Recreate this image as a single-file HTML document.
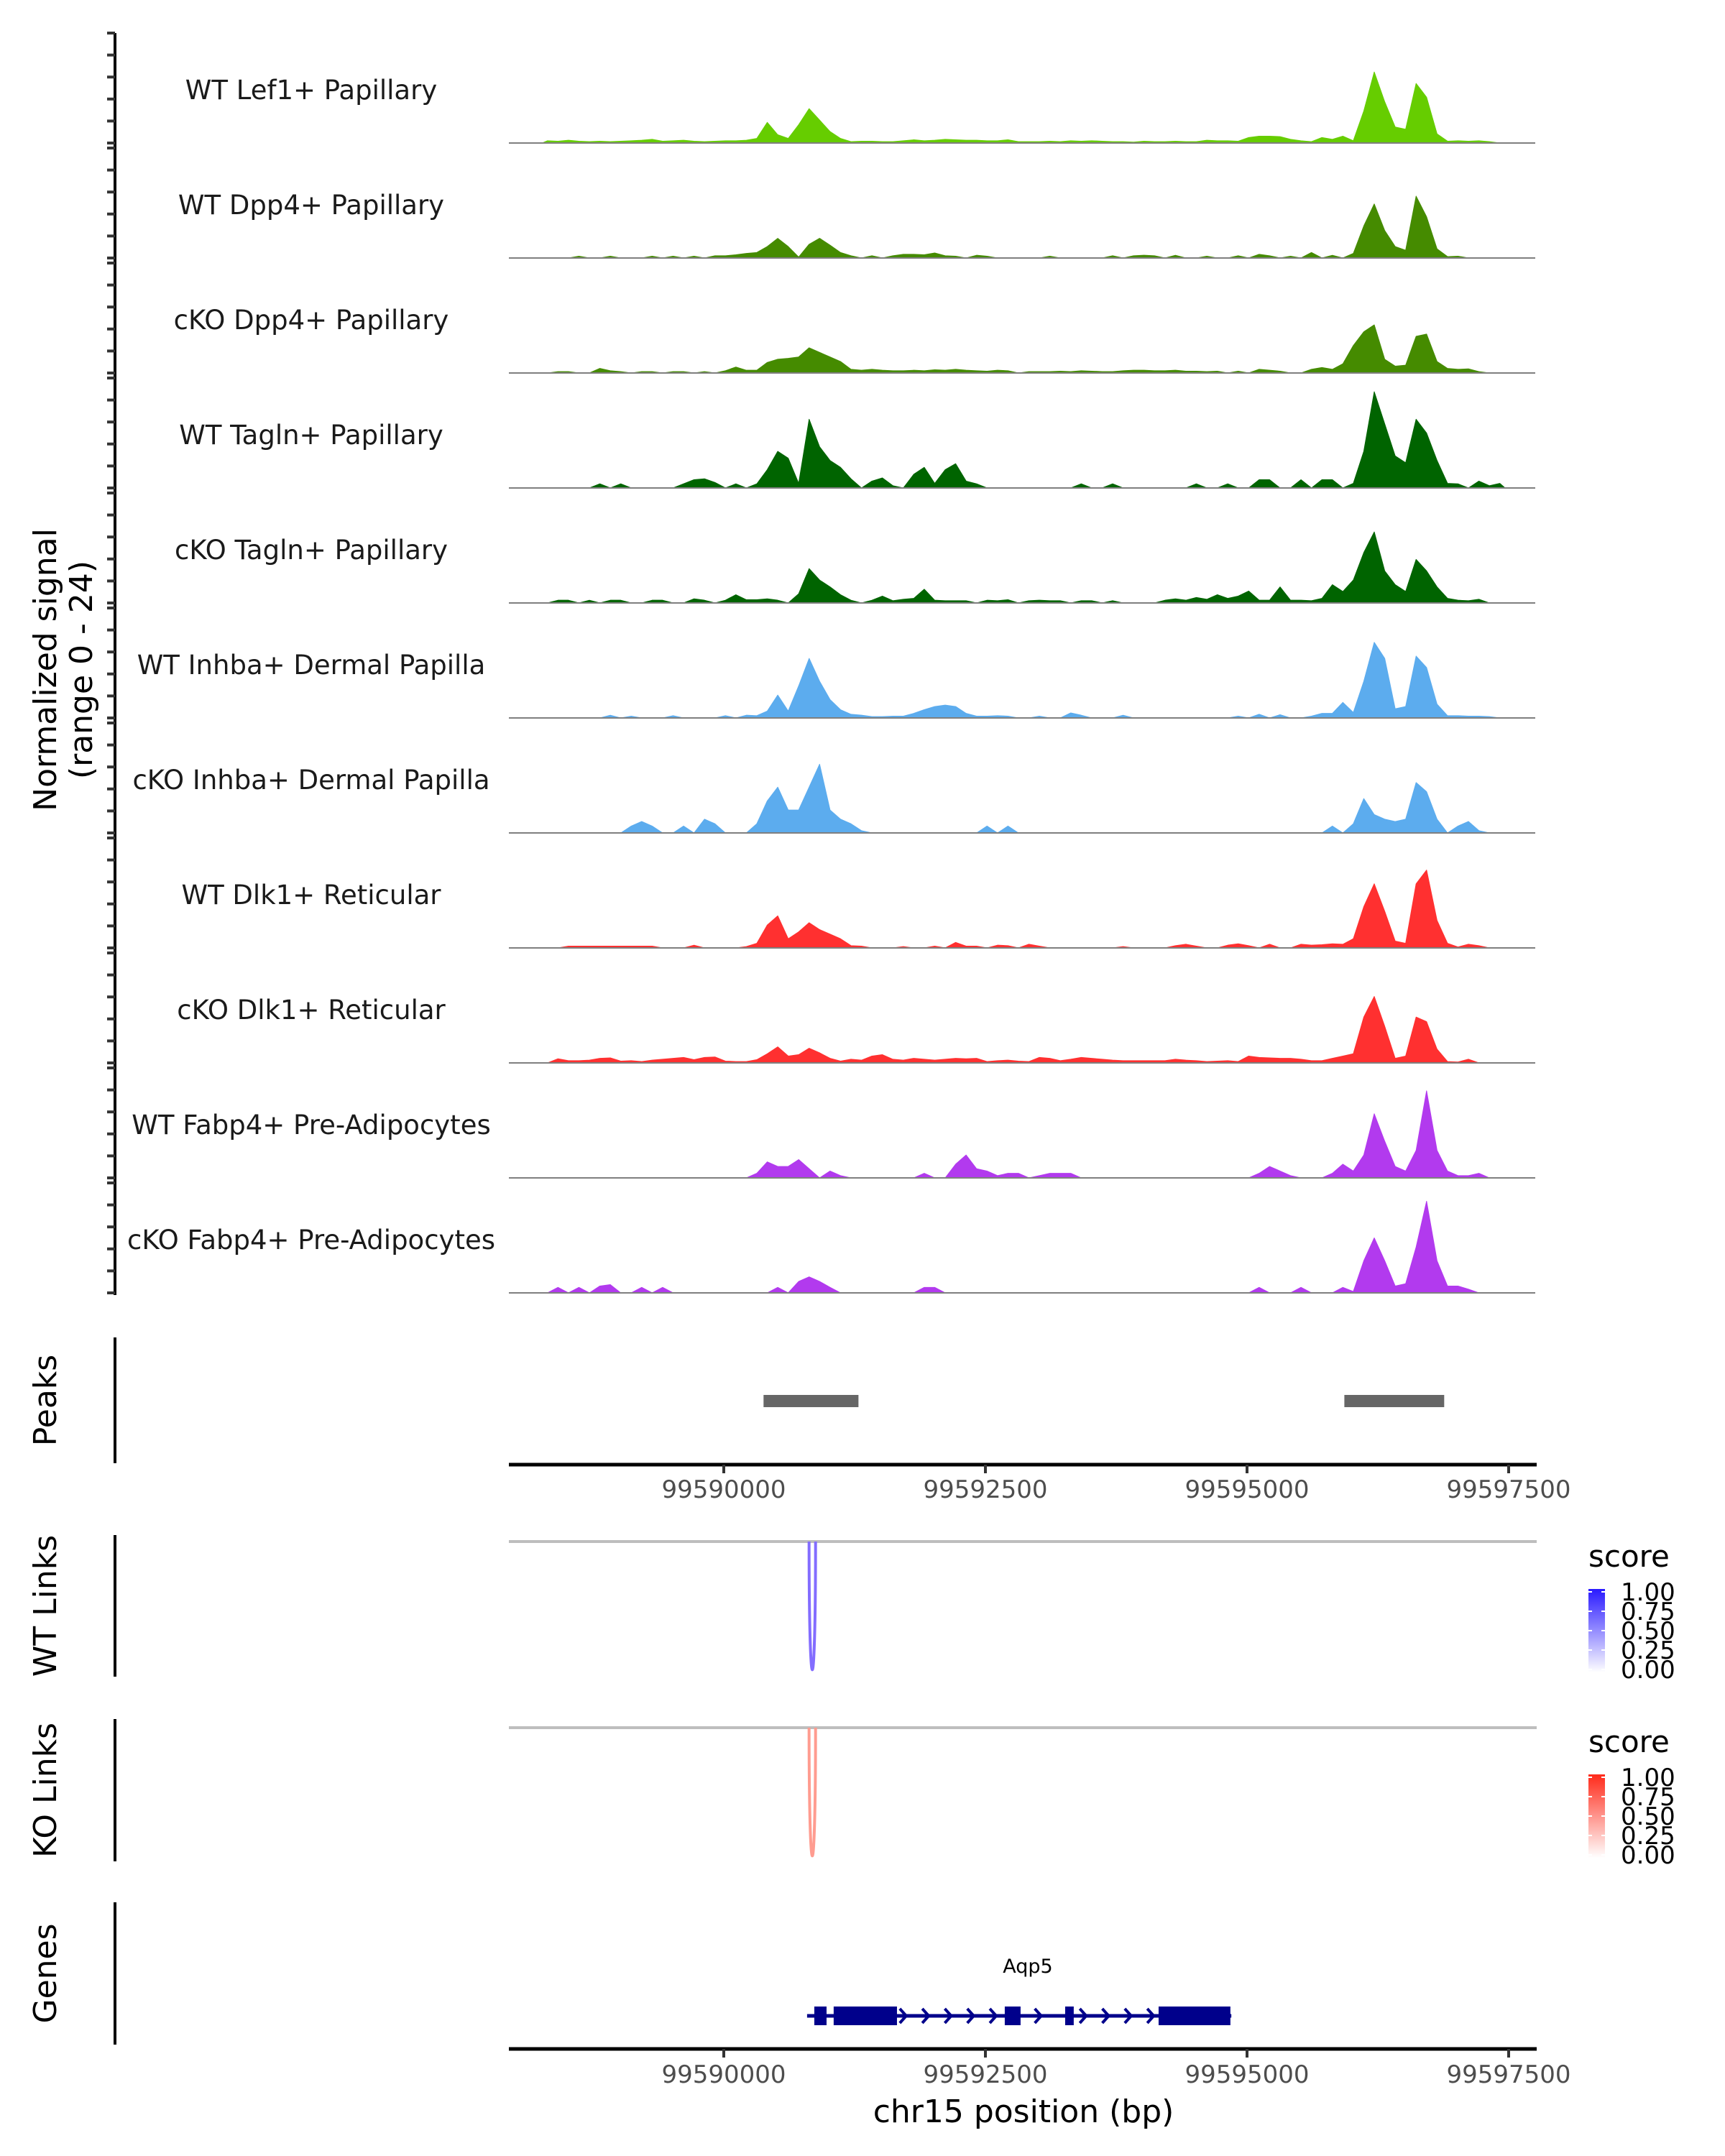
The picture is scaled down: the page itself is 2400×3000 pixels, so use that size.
<!DOCTYPE html>
<html><head><meta charset="utf-8"><title>Aqp5 coverage plot</title>
<style>
html,body{margin:0;padding:0;background:#fff;}
svg{display:block;font-family:"DejaVu Sans","Liberation Sans",sans-serif;}
</style></head>
<body>
<svg id="chart" width="2400" height="3000" viewBox="0 0 2400 3000" xmlns="http://www.w3.org/2000/svg">
<rect width="2400" height="3000" fill="#fff"/>
<g id="tracks"></g>
<g id="peaks"></g>
<g id="links"></g>
<g id="genes"></g>
<g id="axes"></g>
</svg>
<script>
// ---- data ----
const trackNames = ["WT Lef1+ Papillary","WT Dpp4+ Papillary","cKO Dpp4+ Papillary","WT Tagln+ Papillary","cKO Tagln+ Papillary","WT Inhba+ Dermal Papilla","cKO Inhba+ Dermal Papilla","WT Dlk1+ Reticular","cKO Dlk1+ Reticular","WT Fabp4+ Pre-Adipocytes","cKO Fabp4+ Pre-Adipocytes"];
const trackColors = ["#66CD00","#458B00","#458B00","#006400","#006400","#5CACEE","#5CACEE","#FF3030","#FF3030","#B23AEE","#B23AEE"];
const binStart = 99588300;
const binSize = 100;
const sigLef1WT = [0.5,0.4,0.6,0.4,0.3,0.4,0.3,0.4,0.5,0.6,0.8,0.4,0.5,0.6,0.4,0.3,0.4,0.5,0.5,0.6,1.0,4.5,1.8,1.0,4.0,7.5,5.0,2.5,1.0,0.3,0.4,0.4,0.3,0.3,0.5,0.7,0.5,0.6,0.8,0.7,0.6,0.6,0.5,0.5,0.7,0.3,0.3,0.3,0.4,0.3,0.5,0.4,0.5,0.4,0.3,0.3,0.2,0.4,0.3,0.3,0.4,0.3,0.3,0.6,0.5,0.5,0.4,1.2,1.5,1.5,1.4,0.8,0.5,0.3,1.2,0.8,1.5,0.5,7.0,15.5,9.0,3.5,3.0,13.0,10.0,2.0,0.4,0.5,0.4,0.5,0.3,0];
const sigDpp4WT = [0,0,0,0.4,0,0,0.4,0,0,0,0.4,0,0.4,0,0.4,0,0.5,0.5,0.7,1.0,1.2,2.5,4.3,2.5,0.2,3.0,4.3,2.8,1.2,0.5,0,0.5,0,0.5,0.8,0.8,0.7,1.1,0.5,0.4,0,0.6,0.4,0,0,0,0,0,0.4,0,0,0,0,0,0.5,0,0.5,0.6,0.5,0,0.6,0,0,0.4,0,0,0.5,0,0.8,0.5,0,0.4,0,1.2,0,0.6,0,1.0,7.0,11.8,6.0,2.5,1.7,13.5,9.0,2.0,0.3,0.4,0,0,0,0];
const sigDpp4KO = [0,0.3,0.3,0,0,1.0,0.5,0.3,0,0.3,0.3,0,0.3,0.3,0,0.3,0,0.5,1.3,0.6,0.6,2.3,3.0,3.2,3.5,5.5,4.5,3.5,2.5,0.8,0.6,0.8,0.6,0.5,0.5,0.6,0.5,0.7,0.6,0.8,0.6,0.5,0.4,0.6,0.5,0,0.3,0.3,0.3,0.4,0.3,0.5,0.4,0.3,0.3,0.5,0.6,0.6,0.5,0.5,0.6,0.4,0.4,0.3,0.4,0,0.4,0,0.8,0.6,0.4,0,0,0.8,1.2,0.8,2.0,6.0,9.0,10.5,3.0,1.5,1.7,8.0,8.5,2.5,1.0,0.8,0.9,0.3,0,0];
const sigTaglnWT = [0,0,0,0,0,0.9,0,0.9,0,0,0,0,0,0.9,1.8,2.0,1.2,0,0.9,0,0.9,4.0,8.0,6.5,1.0,15.0,9.0,6.0,4.5,2.0,0,1.5,2.2,0.5,0,3.0,4.5,1.0,4.0,5.3,1.5,0.9,0,0,0,0,0,0,0,0,0,0.9,0,0,0.9,0,0,0,0,0,0,0,0.9,0,0,0.9,0,0,1.8,1.8,0,0,1.8,0,1.8,1.8,0,1.0,8.0,21.0,14.0,7.0,5.5,15.0,12.0,6.0,1.0,0.9,0,1.5,0.5,1.0];
const sigTaglnKO = [0,0.6,0.6,0,0.6,0,0.6,0.6,0,0,0.6,0.6,0,0,0.9,0.6,0,0.6,1.8,0.7,0.7,0.9,0.6,0,2.0,7.5,5.0,3.5,1.8,0.6,0,0.6,1.5,0.5,0.8,1.0,3.0,0.6,0.5,0.5,0.5,0,0.6,0.5,0.7,0,0.5,0.6,0.5,0.5,0,0.5,0.5,0,0.5,0,0,0,0,0.6,0.9,0.6,1.2,0.8,1.8,1.0,1.5,2.6,0.6,0.6,3.5,0.6,0.6,0.5,1.0,4.0,2.5,5.0,11.0,15.5,7.0,4.0,2.5,9.5,7.0,3.5,1.0,0.6,0.5,0.8,0,0];
const sigInhbaWT = [0,0,0,0,0,0,0.6,0,0.4,0,0,0,0.5,0,0,0,0,0.5,0,0.6,0.5,1.5,5.0,1.5,7.0,13.0,8.0,4.0,1.8,0.8,0.6,0.3,0.3,0.4,0.4,1.0,1.8,2.5,2.8,2.5,1.0,0.4,0.4,0.5,0.4,0,0,0.4,0,0,1.1,0.6,0,0,0,0.6,0,0,0,0,0,0,0,0,0,0,0.4,0,0.8,0,0.7,0,0,0.4,1.0,1.0,3.4,1.2,8.0,16.5,13.0,2.0,2.5,13.5,11.0,3.0,0.5,0.5,0.4,0.4,0.3,0];
const sigInhbaKO = [0,0,0,0,0,0,0,0,1.5,2.5,1.5,0,0,1.5,0,3.0,2.0,0,0,0,2.0,7.0,10.0,5.0,5.0,10.0,15.0,5.0,3.0,2.0,0.5,0,0,0,0,0,0,0,0,0,0,0,1.5,0,1.5,0,0,0,0,0,0,0,0,0,0,0,0,0,0,0,0,0,0,0,0,0,0,0,0,0,0,0,0,0,0,1.5,0,2.0,7.5,4.0,3.0,2.5,3.0,11.0,9.0,3.0,0,1.5,2.5,0.5,0,0];
const sigDlk1WT = [0,0,0.4,0.4,0.4,0.4,0.4,0.4,0.4,0.4,0.4,0,0,0,0.6,0,0,0,0,0.3,1.0,5.0,7.0,2.0,3.5,5.5,4.0,3.0,2.0,0.5,0.4,0,0,0,0.3,0,0,0.4,0,1.2,0.4,0.4,0,0.6,0.5,0,0.8,0.4,0,0,0,0,0,0,0,0.3,0,0,0,0,0.5,0.8,0.4,0,0,0.6,0.9,0.5,0,0.8,0,0,0.8,0.6,0.7,0.9,0.8,2.0,9.0,14.0,8.0,1.5,1.0,14.0,17.0,6.0,1.0,0.2,0.8,0.5,0,0];
const sigDlk1KO = [0,0.9,0.5,0.5,0.6,1.0,1.1,0.4,0.5,0.3,0.6,0.8,1.0,1.2,0.7,1.2,1.3,0.4,0.3,0.3,0.7,2.0,3.5,1.5,1.8,3.2,2.2,1.0,0.4,0.8,0.6,1.5,1.8,0.8,0.6,1.0,0.8,0.6,0.8,1.0,0.9,1.0,0.3,0.5,0.6,0.4,0.3,1.2,1.0,0.5,0.8,1.2,1.0,0.8,0.6,0.5,0.5,0.5,0.5,0.5,0.8,0.6,0.5,0.3,0.4,0.5,0.3,1.5,1.2,1.1,1.0,1.0,0.8,0.5,0.5,1.0,1.5,2.0,10.0,14.5,8.0,1.0,1.5,10.0,9.0,3.0,0.3,0.2,0.8,0,0,0];
const sigFabp4WT = [0,0,0,0,0,0,0,0,0,0,0,0,0,0,0,0,0,0,0,0,1.0,3.5,2.5,2.5,4.0,2.0,0,1.5,0.5,0,0,0,0,0,0,0,1.0,0,0,3.0,5.0,2.0,1.5,0.5,1.0,1.0,0,0.5,1.0,1.0,1.0,0,0,0,0,0,0,0,0,0,0,0,0,0,0,0,0,0,1.0,2.5,1.5,0.5,0,0,0,1.0,3.0,1.5,5.0,14.0,8.0,2.5,1.5,6.0,19.0,6.0,1.5,0.5,0.5,1.0,0,0];
const sigFabp4KO = [0,1.2,0,1.2,0,1.5,1.8,0,0,1.2,0,1.2,0,0,0,0,0,0,0,0,0,0,1.2,0,2.5,3.5,2.5,1.2,0,0,0,0,0,0,0,0,1.2,1.2,0,0,0,0,0,0,0,0,0,0,0,0,0,0,0,0,0,0,0,0,0,0,0,0,0,0,0,0,0,0,1.2,0,0,0,1.2,0,0,0,1.2,0.3,7.0,12.0,7.0,1.5,2.0,10.0,20.0,7.0,1.5,1.5,0.8,0,0,0];
const signals = [sigLef1WT,sigDpp4WT,sigDpp4KO,sigTaglnWT,sigTaglnKO,sigInhbaWT,sigInhbaKO,sigDlk1WT,sigDlk1KO,sigFabp4WT,sigFabp4KO];
const xTicks = [99590000,99592500,99595000,99597500];
const peakStarts = [99590380,99595930];
const peakEnds = [99591287,99596884];
const wtLinkStart = [99590815];
const wtLinkEnd = [99590877];
const wtLinkScore = [0.75];
const koLinkStart = [99590815];
const koLinkEnd = [99590877];
const koLinkScore = [0.6];
const exonStarts = [99590865,99591050,99592685,99593262,99594155];
const exonEnds = [99590982,99591655,99592836,99593344,99594841];
const geneStart = 99590796;
const geneEnd = 99594850;
const legendTicks = ["1.00","0.75","0.50","0.25","0.00"];

// ---- scales ----
const NS = "http://www.w3.org/2000/svg";
function xs(bp){ return 1007 + (bp - 99590000) * 0.1456; }
function sx(bp){ return 1002 + (bp - 99590000) * 0.1456; }
function base(i){ return 199 + 160 * i; }
function ys(v, i){ return base(i) - v * 153 / 24; }
function mk(tag, attrs, parent){ const e = document.createElementNS(NS, tag); for (const k in attrs) e.setAttribute(k, attrs[k]); parent.appendChild(e); return e; }
const PX0 = 708, PX1 = 2138;

// ---- coverage tracks ----
const gT = document.getElementById('tracks');
signals.forEach((arr, i) => {
  const g = mk('g', {}, gT);
  
  
  let pts = [];
  pts.push(sx(binStart) + ',' + base(i));
  arr.forEach((v, k) => {
    pts.push(sx(binStart + (k + 0.5) * binSize) + ',' + ys(v, i));
  });
  pts.push(sx(binStart + arr.length * binSize) + ',' + base(i));
  const p = mk('polygon', {points: pts.join(' '), fill: trackColors[i], stroke: trackColors[i], 'stroke-width': 1, 'stroke-linejoin': 'round'}, g);
  
  
  const bl = mk('line', {x1: PX0, x2: PX1 - 2, y1: base(i), y2: base(i), stroke: '#7f7f7f', 'stroke-width': 2}, g);
  
  
  const t = mk('text', {x: 433, y: base(i) - 61, 'font-size': 37, 'text-anchor': 'middle', fill: '#1a1a1a'}, g);
  t.textContent = trackNames[i];
  
  
});

// ---- axes ----
const gA = document.getElementById('axes');
mk('line', {x1: 160, x2: 160, y1: 46, y2: 1802, stroke: '#000', 'stroke-width': 4}, gA);
for (let i = 0; i < 11; i++) {
  for (let k = 0; k <= 5; k++) {
    const y = 46 + 160 * i + 30.6 * k;
    mk('line', {x1: 149, x2: 160, y1: y, y2: y, stroke: '#333', 'stroke-width': 4}, gA);
  }
}
const yt = mk('text', {transform: 'translate(78,932) rotate(-90)', 'font-size': 44, 'text-anchor': 'middle', fill: '#000'}, gA);
yt.textContent = 'Normalized signal';


const yt2 = mk('text', {transform: 'translate(128,932) rotate(-90)', 'font-size': 44, 'text-anchor': 'middle', fill: '#000'}, gA);
yt2.textContent = '(range 0 - 24)';



const sideLabels = [["Peaks",1861,2036],["WT Links",2136,2333],["KO Links",2392,2590],["Genes",2647,2845]];
sideLabels.forEach(s => {
  mk('line', {x1: 160, x2: 160, y1: s[1], y2: s[2], stroke: '#000', 'stroke-width': 4}, gA);
  const t = mk('text', {transform: 'translate(78,' + ((s[1] + s[2]) / 2) + ') rotate(-90)', 'font-size': 44, 'text-anchor': 'middle', fill: '#000'}, gA);
  t.textContent = s[0];
  
  
});

function xAxis(y, labelY){
  mk('line', {x1: PX0, x2: PX1, y1: y, y2: y, stroke: '#000', 'stroke-width': 5}, gA);
  xTicks.forEach(v => {
    mk('line', {x1: xs(v), x2: xs(v), y1: y, y2: y + 12, stroke: '#333', 'stroke-width': 4}, gA);
    const t = mk('text', {x: xs(v), y: labelY, 'font-size': 34, 'text-anchor': 'middle', fill: '#4d4d4d'}, gA);
    t.textContent = v;
    
    
  });
}
xAxis(2038, 2084);
xAxis(2851, 2898);
const xt = mk('text', {x: 1424, y: 2953, 'font-size': 44, 'text-anchor': 'middle', fill: '#000'}, gA);
xt.textContent = 'chr15 position (bp)';



// ---- peaks ----
const gP = document.getElementById('peaks');
peakStarts.forEach((s, i) => {
  const r = mk('rect', {x: xs(s), y: 1941, width: xs(peakEnds[i]) - xs(s), height: 17, fill: '#666666'}, gP);
  
  
});

// ---- links ----
const gL = document.getElementById('links');
function linkTrack(y0, depth, starts, ends, scores, hue, name, legY){
  mk('line', {x1: PX0, x2: PX1, y1: y0, y2: y0, stroke: '#bebebe', 'stroke-width': 4}, gL);
  starts.forEach((s, i) => {
    const a = xs(s), b = xs(ends[i]);
    const col = hue === 'blue' ? 'rgb(' + Math.round(255 * (1 - scores[i]) + 90 * scores[i]) + ',' + Math.round(255 * (1 - scores[i]) + 60 * scores[i]) + ',255)' : 'rgb(255,' + Math.round(255 * (1 - scores[i]) + 90 * scores[i]) + ',' + Math.round(255 * (1 - scores[i]) + 70 * scores[i]) + ')';
    const p = mk('path', {d: 'M' + a + ',' + y0 + ' C' + a + ',' + (y0 + depth * 1.3) + ' ' + b + ',' + (y0 + depth * 1.3) + ' ' + b + ',' + y0, fill: 'none', stroke: col, 'stroke-width': 4}, gL);
    
    
  });
  const lg = mk('g', {}, gL);
  
  
  const t = mk('text', {x: 2210, y: legY, 'font-size': 42, fill: '#000'}, lg);
  t.textContent = 'score';
  const gid = 'grad-' + hue;
  const defs = mk('defs', {}, lg);
  const gr = mk('linearGradient', {id: gid, x1: 0, y1: 0, x2: 0, y2: 1}, defs);
  mk('stop', {offset: 0, 'stop-color': hue === 'blue' ? '#2a1aff' : '#ff2a1a'}, gr);
  mk('stop', {offset: 1, 'stop-color': '#ffffff'}, gr);
  const by = legY + 31;
  mk('rect', {x: 2210, y: by, width: 23, height: 116, fill: 'url(#' + gid + ')'}, lg);
  legendTicks.forEach((l, k) => {
    const yy = by + 4 + k * 27;
    mk('line', {x1: 2210, x2: 2215, y1: yy, y2: yy, stroke: '#fff', 'stroke-width': 2}, lg);
    mk('line', {x1: 2228, x2: 2233, y1: yy, y2: yy, stroke: '#fff', 'stroke-width': 2}, lg);
    const tt = mk('text', {x: 2255, y: yy + 12, 'font-size': 34, fill: '#000'}, lg);
    tt.textContent = l;
  });
}
linkTrack(2145, 183, wtLinkStart, wtLinkEnd, wtLinkScore, 'blue', 'wt-link-arc', 2180);
linkTrack(2404, 183, koLinkStart, koLinkEnd, koLinkScore, 'red', 'ko-link-arc', 2438);

// ---- genes ----
const gG = document.getElementById('genes');
const gy = 2805;
mk('line', {x1: xs(geneStart), x2: xs(geneEnd), y1: gy, y2: gy, stroke: '#00008B', 'stroke-width': 5}, gG);
for (let bp = geneStart + 60; bp < geneEnd - 60; bp += 215) {
  let inside = false;
  exonStarts.forEach((s, i) => { if (bp > s - 60 && bp < exonEnds[i] + 60) inside = true; });
  if (inside) continue;
  const x = xs(bp);
  mk('polyline', {points: (x - 5) + ',' + (gy - 10) + ' ' + (x + 4) + ',' + gy + ' ' + (x - 5) + ',' + (gy + 10), fill: 'none', stroke: '#00008B', 'stroke-width': 4}, gG);
}
exonStarts.forEach((s, i) => {
  const r = mk('rect', {x: xs(s), y: gy - 13, width: xs(exonEnds[i]) - xs(s), height: 26, fill: '#00008B'}, gG);
  
  
});
const gl = mk('text', {x: 1430, y: 2745, 'font-size': 27, 'text-anchor': 'middle', fill: '#000'}, gG);
gl.textContent = 'Aqp5';


</script>
</body></html>
